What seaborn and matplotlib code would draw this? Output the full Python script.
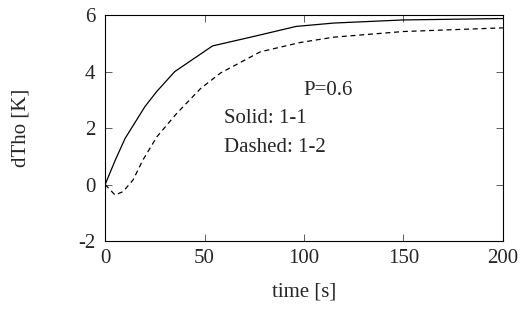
import matplotlib
matplotlib.use("Agg")
import matplotlib.pyplot as plt
import pandas as pd
import seaborn as sns

# values
time_solid = [0, 5, 10, 20, 26, 35, 54, 75, 96, 115, 150, 200]
dtho_solid = [0, 0.85, 1.63, 2.76, 3.3, 4.0, 4.91, 5.25, 5.6, 5.72, 5.83, 5.88]
time_dashed = [0, 5, 9, 14, 19, 26, 36, 48, 58, 78, 98, 115, 150, 200]
dtho_dashed = [0, -0.37, -0.25, 0.16, 0.87, 1.69, 2.52, 3.4, 3.95, 4.7, 5.03, 5.22, 5.42, 5.55]

sns.set_theme(style="ticks")
plt.rcParams['font.family'] = ['Liberation Serif', 'DejaVu Serif']
plt.rcParams['axes.unicode_minus'] = False

fig, ax = plt.subplots(figsize=(5.31, 3.09), dpi=100)
fig.subplots_adjust(left=0.198, right=0.947, top=0.951, bottom=0.22)

df1 = pd.DataFrame({"t": time_solid, "v": dtho_solid})
df2 = pd.DataFrame({"t": time_dashed, "v": dtho_dashed})
sns.lineplot(data=df1, x="t", y="v", ax=ax, color="black", lw=0.9)
sns.lineplot(data=df2, x="t", y="v", ax=ax, color="black", lw=0.9, linestyle=(0, (4, 3)))

ax.set_xlim(0, 200)
ax.set_ylim(-2, 6)
ax.set_xticks([0, 50, 100, 150, 200])
ax.set_yticks([-2, 0, 2, 4, 6])
ax.tick_params(direction="in", top=True, right=True, labelsize=15, length=5, width=0.6, color="#444444")
ax.tick_params(axis="x", pad=6)
ax.tick_params(axis="y", pad=7)
for s in ax.spines.values():
    s.set_linewidth(0.8)
    s.set_color("black")

ax.set_xlabel("time [s]", fontsize=15, labelpad=10)
ax.set_ylabel("dTho [K]", fontsize=15, labelpad=34)

ax.text(99.5, 3.17, "P=0.6", fontsize=15)
ax.text(60, 2.18, "Solid: 1-1", fontsize=15)
ax.text(60, 1.15, "Dashed: 1-2", fontsize=15)

fig.savefig("out.png", dpi=100)
